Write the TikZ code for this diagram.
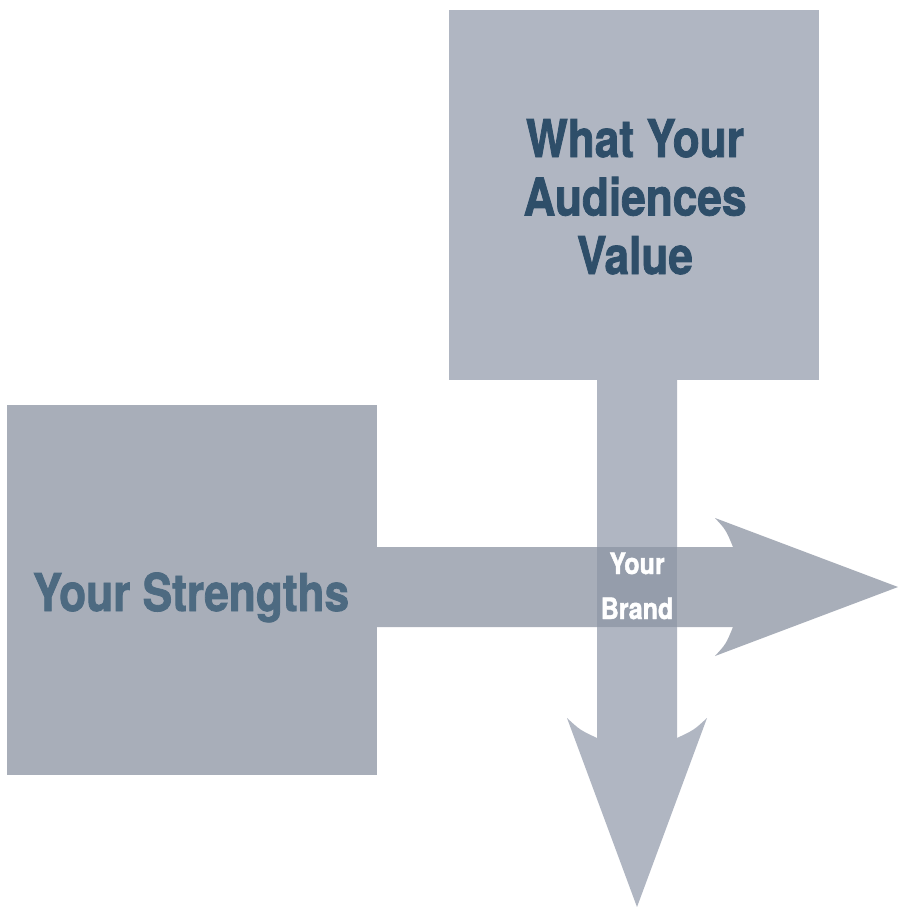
\documentclass[tikz,border=0pt]{standalone}
\usepackage{fontspec}
\setmainfont{TeX Gyre Heros}[FakeStretch=0.85,BoldFeatures={FakeBold=1.5}]
\begin{document}
\begin{tikzpicture}[x=1pt,y=-1pt,
  boxlight/.style={fill=boxtop,draw=none,inner sep=0pt,minimum size=370pt},
  boxdark/.style={fill=boxleft,draw=none,inner sep=0pt,minimum size=370pt},
  bigtext/.style={font=\fontsize{52}{58.5}\selectfont\bfseries,align=center,inner sep=0pt},
  smalltext/.style={font=\fontsize{29.5}{45}\selectfont\bfseries,align=center,inner sep=0pt,text=white}]
\definecolor{boxtop}{HTML}{B0B6C2}
\definecolor{boxleft}{HTML}{A8AEB9}
\definecolor{overlap}{HTML}{959DAB}
\definecolor{toptext}{HTML}{2E4E69}
\definecolor{lefttext}{HTML}{4D6A81}
\useasboundingbox (0,0) rectangle (898,907);
\fill[white] (0,0) rectangle (898,907);

% boxes
\node[boxlight] (audience) at (634,195) {};
\node[boxdark] (strengths) at (192,590) {};

% vertical arrow from the top box
\fill[boxtop] (audience.south -| 597,0) -- (597,738)
  .. controls (580,730) .. (567,718) -- (637,907) -- (707,718)
  .. controls (694,730) .. (677,738) -- (audience.south -| 677,0) -- cycle;

% horizontal arrow from the left box
\fill[boxleft] (strengths.east |- 0,547) -- (733,547)
  .. controls (726,530) .. (715,518) -- (898,587) -- (715,656)
  .. controls (726,644) .. (733,627) -- (strengths.east |- 0,627) -- cycle;

% crossing of the two arrows
\fill[overlap] (597,547) rectangle (677,627);

% labels (anchored on the baseline of the last line)
\node[bigtext,text=toptext,anchor=base] (audiencetext) at (635,274)
  {What Your\\Audiences\\Value};
\node[bigtext,text=lefttext,anchor=base] (strengthstext) at (191,611) {Your Strengths};
\node[smalltext,anchor=base] (brand) at (637,619) {Your\\Brand};
\end{tikzpicture}
\end{document}
